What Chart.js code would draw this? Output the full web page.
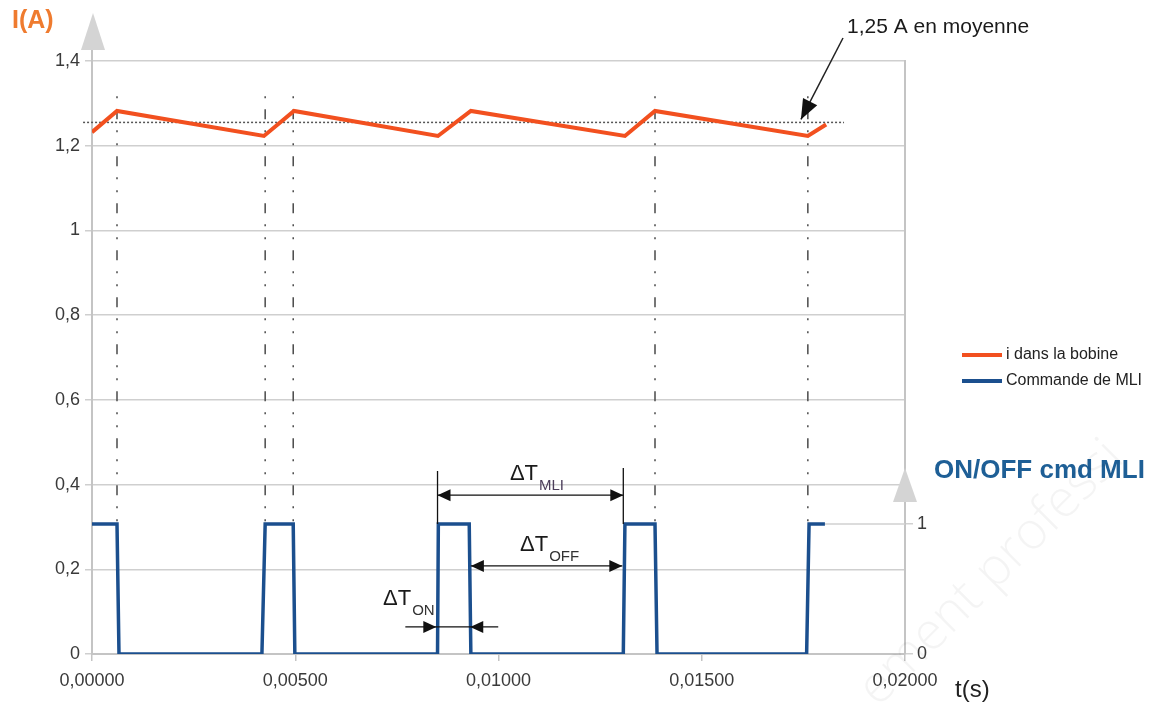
<!DOCTYPE html>
<html>
<head>
<meta charset="utf-8">
<script src="https://cdn.jsdelivr.net/npm/chart.js@4.4.1/dist/chart.umd.min.js"></script>
<style>
	html, body { margin: 0; padding: 0; background: #fff; }
	#wrap { width: 1163px; height: 704px; }
</style>
</head>
<body>
<div id="wrap"><canvas id="mliChart"></canvas></div>
<script>
	// courant dans la bobine (t en s, I en A)
	let currentTimes = [0, 0.000615, 0.00423, 0.00497, 0.00851, 0.00932, 0.01311, 0.01385, 0.01761, 0.01806];
	let currentValues = [1.232, 1.282, 1.223, 1.282, 1.223, 1.282, 1.223, 1.282, 1.223, 1.250];

	// commande MLI (0 / 1)
	let pwmTimes = [0, 0.000615, 0.000664, 0.00418, 0.00426, 0.00495, 0.00499, 0.00850, 0.00852, 0.00928, 0.00932, 0.01307, 0.01311, 0.01385, 0.01390, 0.01758, 0.01764, 0.01803];
	let pwmStates = [1, 1, 0, 0, 1, 1, 0, 0, 1, 1, 0, 0, 1, 1, 0, 0, 1, 1];

	let seriesLabels = ['i dans la bobine', 'Commande de MLI'];
	let meanCurrent = 1.255; // 1,25 A en moyenne
	let guideTimes = [0.000615, 0.00426, 0.00495, 0.01385, 0.01761]; // traits mixtes verticaux
	let pwmTicks = [0, 1];

	const FONT = '"Liberation Sans", Arial, sans-serif';
	const ORANGE = '#f2501f';
	const BLUE = '#1b4f8e';
	const TXT = '#3a3a3a';
	const INK = '#111';

	// format décimal français
	function frNum(v, digits) {
		if (digits !== undefined) return v.toFixed(digits).replace('.', ',');
		return String(Math.round(v * 10) / 10).replace('.', ',');
	}

	function toPoints(xs, ys) {
		return xs.map(function(x, i) { return { x: x, y: ys[i] }; });
	}

	// petite pointe de flèche pleine
	function arrowHead(ctx, x, y, angle, len, half) {
		ctx.save();
		ctx.fillStyle = INK;
		ctx.translate(x, y);
		ctx.rotate(angle);
		ctx.beginPath();
		ctx.moveTo(0, 0);
		ctx.lineTo(-len, -half);
		ctx.lineTo(-len, half);
		ctx.closePath();
		ctx.fill();
		ctx.restore();
	}

	function deltaLabel(ctx, x, y, sub, subColor) {
		ctx.save();
		ctx.font = '22px ' + FONT;
		ctx.fillStyle = '#1a1a1a';
		ctx.textAlign = 'left';
		ctx.textBaseline = 'alphabetic';
		ctx.fillText('ΔT', x, y);
		let w = ctx.measureText('ΔT').width;
		ctx.font = '15px ' + FONT;
		ctx.fillStyle = subColor;
		ctx.fillText(sub, x + w + 1, y + 10);
		ctx.restore();
	}

	const decorPlugin = {
		id: 'decor',
		beforeDatasetsDraw(chart) {
			const ctx = chart.ctx;
			const xs = chart.scales.x, ys = chart.scales.y, y2 = chart.scales.y2;

			// traits mixtes
			ctx.save();
			ctx.strokeStyle = '#4a4a4a';
			ctx.lineWidth = 1.5;
			ctx.setLineDash([2, 11, 10, 11, 2, 11]);
			guideTimes.forEach(function(t) {
				let px = xs.getPixelForValue(t);
				ctx.beginPath();
				ctx.moveTo(px, ys.getPixelForValue(1.317));
				ctx.lineTo(px, y2.getPixelForValue(1));
				ctx.stroke();
			});

			// moyenne en pointillés
			ctx.strokeStyle = '#555';
			ctx.setLineDash([2, 2]);
			ctx.beginPath();
			let my = ys.getPixelForValue(meanCurrent);
			ctx.moveTo(xs.getPixelForValue(-0.00022), my);
			ctx.lineTo(xs.getPixelForValue(0.0185), my);
			ctx.stroke();

			// trait gris au niveau 1 de la commande
			ctx.setLineDash([]);
			ctx.strokeStyle = '#d0d0d0';
			ctx.lineWidth = 1.5;
			let ly = y2.getPixelForValue(1);
			ctx.beginPath();
			ctx.moveTo(xs.getPixelForValue(pwmTimes[pwmTimes.length - 1]), ly);
			ctx.lineTo(chart.chartArea.right, ly);
			ctx.stroke();
			ctx.restore();
		},
		afterDraw(chart) {
			const ctx = chart.ctx;
			const xs = chart.scales.x, ys = chart.scales.y, y2 = chart.scales.y2;
			const area = chart.chartArea;
			ctx.save();

			// flèches des axes
			ctx.fillStyle = '#d4d4d4';
			ctx.beginPath();
			ctx.moveTo(area.left + 1, 13);
			ctx.lineTo(area.left - 11, 50);
			ctx.lineTo(area.left + 13, 50);
			ctx.closePath();
			ctx.fill();
			ctx.strokeStyle = '#c4c4c4';
			ctx.lineWidth = 2;
			ctx.beginPath();
			ctx.moveTo(area.left, 50);
			ctx.lineTo(area.left, area.top);
			ctx.stroke();

			let ty = y2.getPixelForValue(1) - 56;
			ctx.beginPath();
			ctx.moveTo(area.right, ty);
			ctx.lineTo(area.right - 12, ty + 34);
			ctx.lineTo(area.right + 12, ty + 34);
			ctx.closePath();
			ctx.fill();

			// titres d'axes
			ctx.textBaseline = 'middle';
			ctx.textAlign = 'left';
			ctx.font = 'bold 25px ' + FONT;
			ctx.fillStyle = '#ef7b2f';
			ctx.fillText('I(A)', 12, 21);
			ctx.font = 'bold 26px ' + FONT;
			ctx.fillStyle = '#1e5f96';
			ctx.fillText('ON/OFF cmd MLI', 934, 471);
			ctx.font = '24px ' + FONT;
			ctx.fillStyle = '#222';
			ctx.fillText('t(s)', 955, 690);

			// légende
			chart.data.datasets.slice(0, 2).forEach(function(ds, i) {
				let ly = 355 + i * 26;
				ctx.strokeStyle = ds.borderColor;
				ctx.lineWidth = 4;
				ctx.beginPath();
				ctx.moveTo(962, ly);
				ctx.lineTo(1002, ly);
				ctx.stroke();
				ctx.font = '16px ' + FONT;
				ctx.fillStyle = '#222';
				ctx.fillText(ds.label, 1006, ly);
			});

			// annotation de la moyenne
			ctx.font = '21px ' + FONT;
			ctx.fillStyle = '#1a1a1a';
			ctx.fillText('1,25 A en moyenne', 847, 27);
			let tipX = xs.getPixelForValue(0.01744), tipY = ys.getPixelForValue(meanCurrent) - 3;
			ctx.strokeStyle = '#222';
			ctx.lineWidth = 1.5;
			ctx.beginPath();
			ctx.moveTo(843, 38);
			ctx.lineTo(tipX, tipY);
			ctx.stroke();
			arrowHead(ctx, tipX, tipY, Math.atan2(tipY - 38, tipX - 843), 20, 8);

			// cotes ΔT
			ctx.strokeStyle = INK;
			ctx.lineWidth = 1.3;
			let hi = y2.getPixelForValue(1);

			// ΔT MLI
			let a = xs.getPixelForValue(0.00850), b = xs.getPixelForValue(0.01307);
			let top = ys.getPixelForValue(0.432), lv = ys.getPixelForValue(0.375);
			ctx.beginPath();
			ctx.moveTo(a, top); ctx.lineTo(a, hi);
			ctx.moveTo(b, top - 3); ctx.lineTo(b, hi);
			ctx.moveTo(a, lv); ctx.lineTo(b, lv);
			ctx.stroke();
			arrowHead(ctx, a, lv, Math.PI, 13, 6);
			arrowHead(ctx, b, lv, 0, 13, 6);
			deltaLabel(ctx, xs.getPixelForValue(0.01028), ys.getPixelForValue(0.411), 'MLI', '#4b3d5a');

			// ΔT OFF
			let c = xs.getPixelForValue(0.00932);
			lv = ys.getPixelForValue(0.208);
			ctx.beginPath();
			ctx.moveTo(c, lv); ctx.lineTo(b - 1, lv);
			ctx.stroke();
			arrowHead(ctx, c, lv, Math.PI, 13, 6);
			arrowHead(ctx, b - 1, lv, 0, 13, 6);
			deltaLabel(ctx, xs.getPixelForValue(0.01053), ys.getPixelForValue(0.243), 'OFF', '#333');

			// ΔT ON
			let d = xs.getPixelForValue(0.00852) - 2, e = xs.getPixelForValue(0.00928) + 1;
			lv = ys.getPixelForValue(0.064);
			ctx.beginPath();
			ctx.moveTo(d - 31, lv); ctx.lineTo(e + 28, lv);
			ctx.stroke();
			arrowHead(ctx, d, lv, 0, 13, 6);
			arrowHead(ctx, e, lv, Math.PI, 13, 6);
			deltaLabel(ctx, xs.getPixelForValue(0.00716), ys.getPixelForValue(0.116), 'ON', '#333');

			// filigrane
			ctx.translate(878, 708);
			ctx.rotate(-Math.PI / 4);
			ctx.font = '300 52px "Open Sans", ' + FONT;
			ctx.fillStyle = 'rgba(0, 0, 0, 0.045)';
			ctx.textBaseline = 'alphabetic';
			ctx.fillText('ement professi', 0, 0);
			ctx.restore();
		}
	};

	let ctx = document.getElementById('mliChart').getContext('2d');

	let mliChart = new Chart(ctx, {
		type: 'line',
		data: {
			datasets: [
				{
					label: seriesLabels[0],
					data: toPoints(currentTimes, currentValues),
					borderColor: ORANGE,
					borderWidth: 4,
					yAxisID: 'y'
				},
				{
					label: seriesLabels[1],
					data: toPoints(pwmTimes, pwmStates),
					borderColor: BLUE,
					borderWidth: 3.5,
					yAxisID: 'y2'
				}
			]
		},
		options: {
			responsive: true,
			maintainAspectRatio: false,
			animation: false,
			layout: { padding: { left: 0, top: 61, right: 208, bottom: 0 } },
			elements: {
				point: { radius: 0 },
				line: { tension: 0, borderJoinStyle: 'miter', fill: false }
			},
			plugins: {
				legend: { display: false },
				tooltip: { enabled: false }
			},
			scales: {
				x: {
					type: 'linear',
					min: 0,
					max: 0.02,
					ticks: {
						stepSize: 0.005,
						maxRotation: 0,
						padding: 9,
						color: TXT,
						font: { size: 18, family: FONT },
						callback: function(v) { return frNum(v, 5); }
					},
					grid: { drawOnChartArea: false, tickLength: 7, color: '#c4c4c4', lineWidth: 1.5 },
					border: { color: '#c4c4c4', width: 2 },
					afterFit: function(s) { s.height = 50; }
				},
				y: {
					min: 0,
					max: 1.4,
					ticks: {
						stepSize: 0.2,
						padding: 5,
						color: TXT,
						font: { size: 18, family: FONT },
						callback: function(v) { return frNum(v); }
					},
					grid: { color: '#cfcfcf', lineWidth: 1.5, tickLength: 7 },
					border: { color: '#c4c4c4', width: 2 },
					afterFit: function(s) { s.width = 92; }
				},
				y2: {
					position: 'right',
					min: 0,
					max: 4.56,
					afterBuildTicks: function(s) {
						s.ticks = pwmTicks.map(function(v) { return { value: v }; });
					},
					ticks: {
						padding: 4,
						color: TXT,
						font: { size: 18, family: FONT },
						callback: function(v) { return String(v); }
					},
					grid: { drawOnChartArea: false, color: '#d0d0d0', lineWidth: 1.5, tickLength: 8 },
					border: { color: '#c4c4c4', width: 2 },
					afterFit: function(s) { s.width = 50; }
				}
			}
		},
		plugins: [decorPlugin]
	});
</script>
</body>
</html>
